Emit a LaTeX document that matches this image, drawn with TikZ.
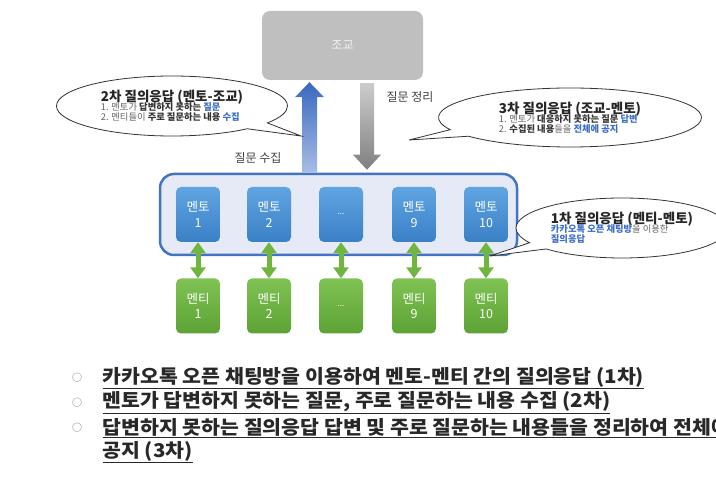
\documentclass[tikz,border=0pt]{standalone}
\usepackage{fontspec}
\setmainfont{Noto Sans CJK KR}
\newfontfamily\listfont[FakeStretch=1.08]{Noto Sans CJK KR}
\usetikzlibrary{shapes.callouts,arrows.meta,positioning}

\definecolor{jogyogray}{RGB}{191,191,191}
\definecolor{mentortop}{RGB}{96,165,225}
\definecolor{mentorbot}{RGB}{58,128,198}
\definecolor{menteetop}{RGB}{128,194,84}
\definecolor{menteebot}{RGB}{92,162,52}
\definecolor{teamfill}{RGB}{229,234,246}
\definecolor{teamline}{RGB}{68,114,196}
\definecolor{linkgreen}{RGB}{112,182,62}
\definecolor{qblue}{RGB}{60,110,200}
\definecolor{qgray}{RGB}{100,100,100}
\definecolor{listgray}{RGB}{40,40,40}

\newcommand\bluew[1]{\textcolor{qblue}{\bfseries #1}}
\newcommand\darkw[1]{\textcolor{black!80}{\bfseries #1}}

\tikzset{
  jogyobox/.style={fill=jogyogray, rounded corners=8pt, minimum width=161pt,
    minimum height=69pt, text=white!95!black, font=\fontsize{12}{14}\selectfont},
  teambox/.style={draw=teamline, line width=2.5pt, fill=teamfill, rounded corners=14pt,
    minimum width=357pt, minimum height=81pt},
  mentor/.style={rounded corners=5pt, minimum width=44pt, minimum height=55pt,
    top color=mentortop, bottom color=mentorbot, text=white, align=center,
    inner sep=0pt, font=\fontsize{12.5}{15.5}\selectfont},
  mentee/.style={mentor, top color=menteetop, bottom color=menteebot},
  mmlink/.style={draw=linkgreen, line width=5pt,
    {Triangle[width=15pt,length=11pt]}-{Triangle[width=15pt,length=11pt]}},
  upflow/.style={top color=qblue!95!black, bottom color=qblue!45!white},
  downflow/.style={top color=black!20, bottom color=black!50},
  flowlabel/.style={text=black!75, font=\fontsize{12}{14}\selectfont},
  bubble/.style={ellipse callout, draw=black!80, line width=0.8pt, fill=white,
    inner sep=0pt, align=left, font=\fontsize{9.3}{11}\selectfont, text=qgray},
  btitle/.style={font=\fontsize{13.5}{15}\selectfont\bfseries, text=black!85},
  listline/.style={anchor=west, text=listgray, font=\listfont\fontsize{19}{22}\selectfont\bfseries},
  listdot/.style={text=black!55, font=\fontsize{10}{12}\selectfont}
}

\begin{document}
\begin{tikzpicture}[x=1pt,y=-1pt]
\useasboundingbox[fill=white] (0,0) rectangle (716,494);

% top: teaching assistant
\node[jogyobox] (jogyo) at (342.5,45.5) {조교};

% mentor group
\node[teambox] (team) at (338.5,214.5) {};

\foreach \i/\x/\t in {1/198/1, 2/269/2, 4/414/9, 5/486/10}{
  \node[mentor] (mt\i) at (\x,214.5) {멘토\\\t};
  \node[mentee] (me\i) at (\x,306) {멘티\\\t};
}
\node[mentor, font=\fontsize{8}{10}\selectfont] (mt3) at (341,214.5) {...};
\node[mentee, font=\fontsize{8}{10}\selectfont] (me3) at (341,306) {...};

\foreach \i in {1,...,5}{
  \draw[mmlink] (mt\i.south) -- (me\i.north);
}

% flows between mentors and TA
\coordinate (upS) at (309.5,0 |- team.north);
\coordinate (upE) at ([yshift=-2pt]309.5,0 |- jogyo.south);
\shade[upflow] ([xshift=-7.5pt]upS) -- ([xshift=-7.5pt,yshift=-15pt]upE)
  -- ([xshift=-14.5pt,yshift=-15pt]upE) -- (upE)
  -- ([xshift=14.5pt,yshift=-15pt]upE) -- ([xshift=7.5pt,yshift=-15pt]upE)
  -- ([xshift=7.5pt]upS) -- cycle;

\coordinate (dnS) at ([yshift=-3pt]367,0 |- jogyo.south);
\coordinate (dnE) at ([yshift=3pt]367,0 |- team.north);
\shade[downflow] ([xshift=-7pt]dnS) -- ([xshift=-7pt,yshift=15pt]dnE)
  -- ([xshift=-14pt,yshift=15pt]dnE) -- (dnE)
  -- ([xshift=14pt,yshift=15pt]dnE) -- ([xshift=7pt,yshift=15pt]dnE)
  -- ([xshift=7pt]dnS) -- cycle;

\node[flowlabel] (collect) at (258,158) {질문 수집};
\node[flowlabel] (sort) at (410,97) {질문 정리};

% callouts
\node[bubble, minimum width=231pt, minimum height=60pt,
  callout absolute pointer={(301,136)}] (q2) at (172,106)
  {{\fontsize{13.5}{15}\selectfont\bfseries\color{black!85}2차 질의응답 (멘토-조교)}\\[-2pt]
   1. 멘토가 \darkw{답변하지 못하는} \bluew{질문}\\[-1pt]
   2. 멘티들이 \darkw{주로 질문하는 내용} \bluew{수집}};

\node[bubble, minimum width=263pt, minimum height=59pt,
  callout absolute pointer={(409,140)}] (q3) at (570,117.5)
  {{\fontsize{13.5}{15}\selectfont\bfseries\color{black!85}3차 질의응답 (조교-멘토)}\\[-2pt]
   1. 멘토가 \darkw{대응하지 못하는 질문} \bluew{답변}\\[-1pt]
   2. \darkw{수집된 내용}들을 \bluew{전체에 공지}};

\node[bubble, minimum width=212pt, minimum height=60pt,
  callout absolute pointer={(490,256)}] (q1) at (622,228)
  {{\fontsize{13.5}{15}\selectfont\bfseries\color{black!85}1차 질의응답 (멘티-멘토)}\\[-2pt]
   \bluew{카카오톡 오픈 채팅방}을 이용한\\[-1pt]
   \bluew{질의응답}};

% summary list
\node[listdot] (b1) at (77,378) {○};
\node[listdot] (b2) at (77,403) {○};
\node[listdot] (b3) at (77,428) {○};
\node[listline] (l1) at (99,378) {\underline{카카오톡 오픈 채팅방을 이용하여 멘토-멘티 간의 질의응답 (1차)}};
\node[listline] (l2) at (99,403) {\underline{멘토가 답변하지 못하는 질문, 주로 질문하는 내용 수집 (2차)}};
\node[listline] (l3) at (99,428) {\underline{답변하지 못하는 질의응답 답변 및 주로 질문하는 내용들을 정리하여 전체에}};
\node[listline] (l4) at (99,452) {\underline{공지 (3차)}};
\end{tikzpicture}
\end{document}
